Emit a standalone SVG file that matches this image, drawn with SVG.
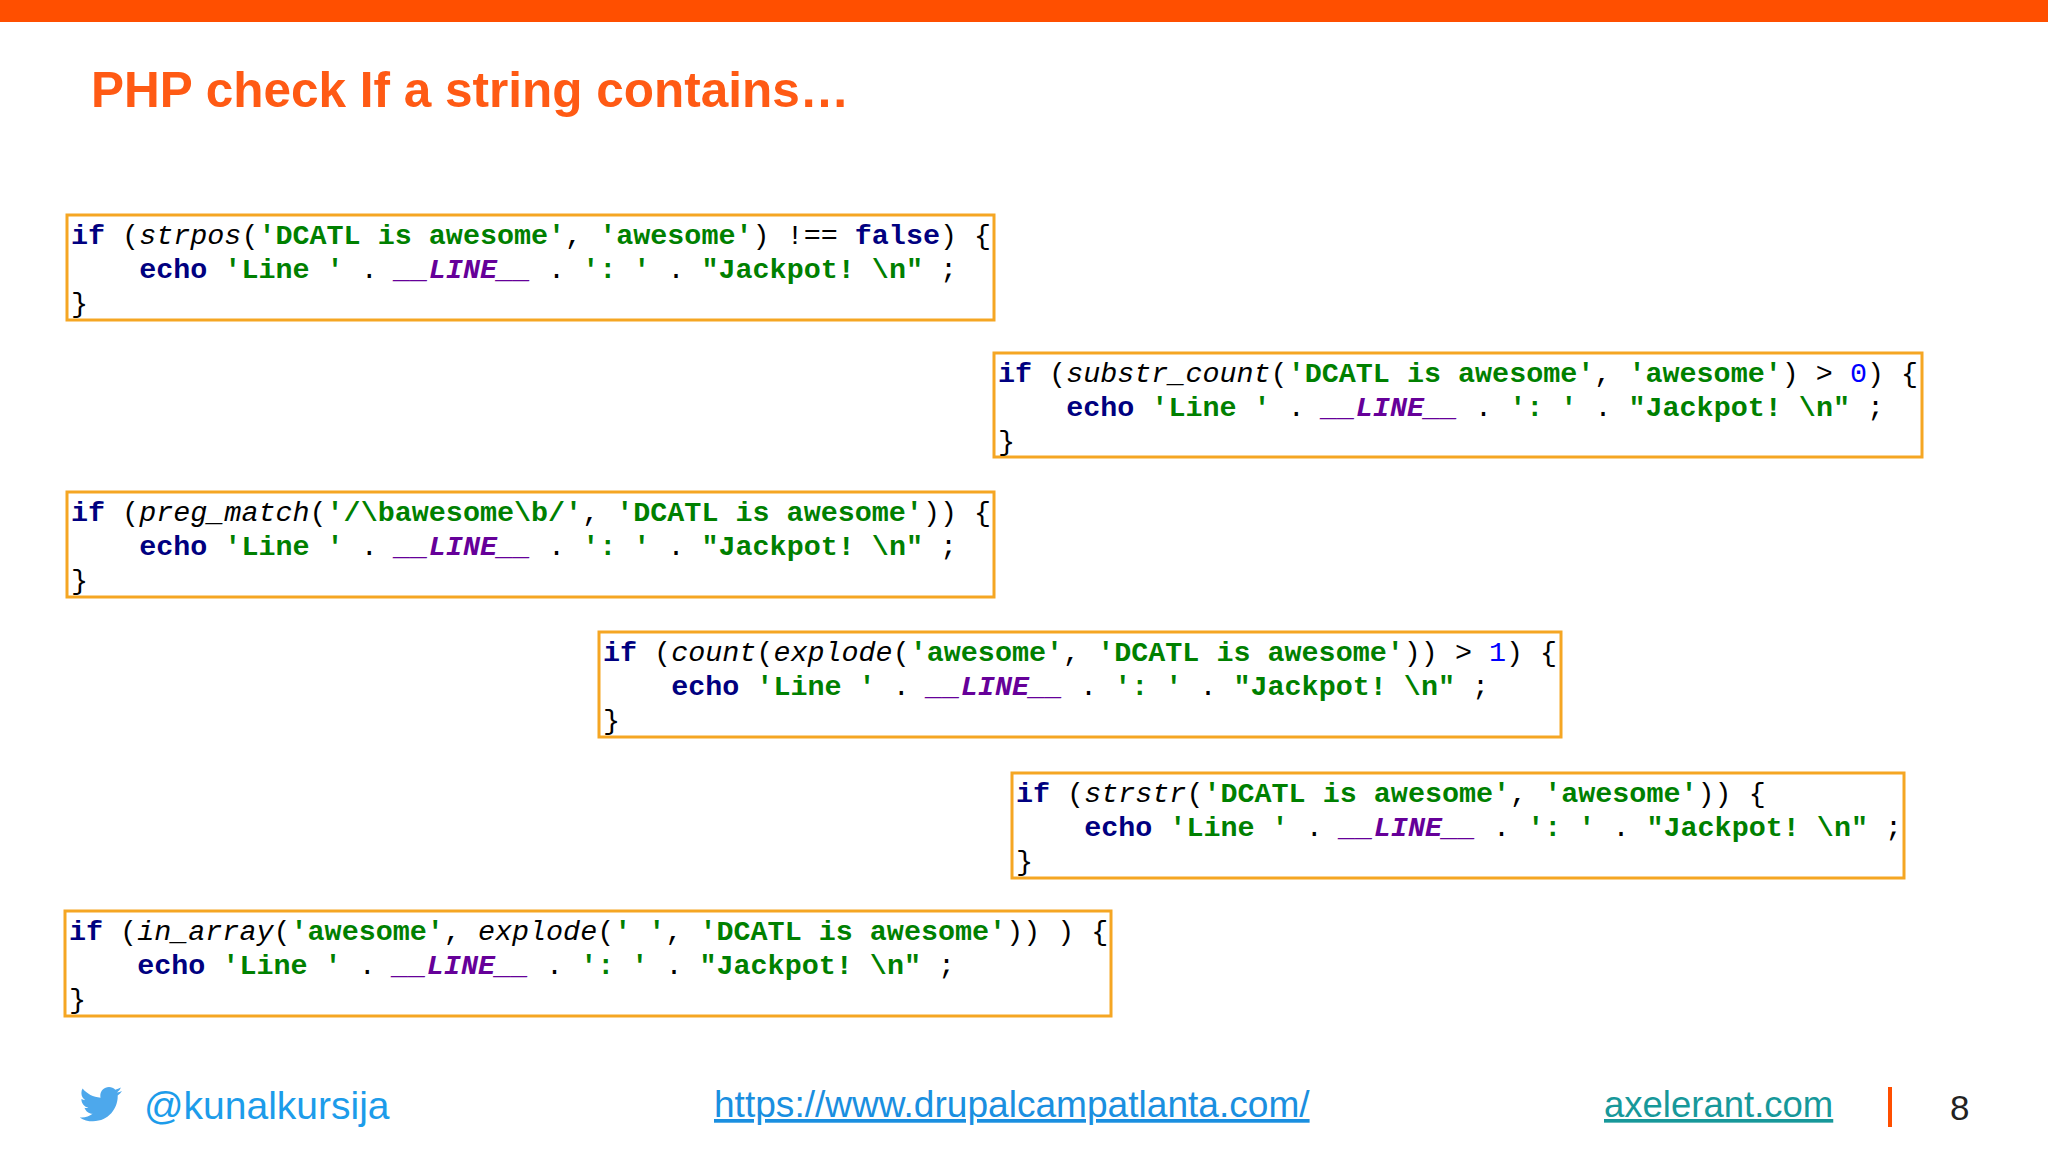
<svg xmlns="http://www.w3.org/2000/svg" width="2048" height="1152" viewBox="0 0 2048 1152">
<style>
.box{fill:#fff;stroke:#F5A623;stroke-width:3}
.code{font-family:"Liberation Mono",monospace;font-size:28.4px;fill:#000;white-space:pre}
.k{fill:#000080;font-weight:bold}
.f{font-style:italic}
.s{fill:#008000;font-weight:bold}
.c{fill:#660099;font-weight:bold;font-style:italic}
.n{fill:#0000FF}
.ft{font-family:"Liberation Sans",Arial,sans-serif}
</style>
<rect x="0" y="0" width="2048" height="22" fill="#FF4F00"/>
<text x="91" y="107" font-family="Liberation Sans,Arial,sans-serif" font-size="49.5" font-weight="bold" fill="#FF5A14">PHP check If a string contains…</text>

<g id="box1">
<rect class="box" x="67" y="215" width="927" height="105"/>
<text class="code" xml:space="preserve" x="71" y="244"><tspan class="k">if</tspan> (<tspan class="f">strpos</tspan>(<tspan class="s">'DCATL is awesome'</tspan>, <tspan class="s">'awesome'</tspan>) !== <tspan class="k">false</tspan>) {</text>
<text class="code" xml:space="preserve" x="71" y="278">    <tspan class="k">echo</tspan> <tspan class="s">'Line '</tspan> . <tspan class="c">__LINE__</tspan> . <tspan class="s">': '</tspan> . <tspan class="s">"Jackpot! \n"</tspan> ;</text>
<text class="code" x="71" y="312">}</text>
</g>
<g id="box2">
<rect class="box" x="994" y="353" width="928" height="104"/>
<text class="code" xml:space="preserve" x="998" y="382"><tspan class="k">if</tspan> (<tspan class="f">substr_count</tspan>(<tspan class="s">'DCATL is awesome'</tspan>, <tspan class="s">'awesome'</tspan>) &gt; <tspan class="n">0</tspan>) {</text>
<text class="code" xml:space="preserve" x="998" y="416">    <tspan class="k">echo</tspan> <tspan class="s">'Line '</tspan> . <tspan class="c">__LINE__</tspan> . <tspan class="s">': '</tspan> . <tspan class="s">"Jackpot! \n"</tspan> ;</text>
<text class="code" x="998" y="450">}</text>
</g>
<g id="box3">
<rect class="box" x="67" y="492" width="927" height="105"/>
<text class="code" xml:space="preserve" x="71" y="521"><tspan class="k">if</tspan> (<tspan class="f">preg_match</tspan>(<tspan class="s">'/\bawesome\b/'</tspan>, <tspan class="s">'DCATL is awesome'</tspan>)) {</text>
<text class="code" xml:space="preserve" x="71" y="555">    <tspan class="k">echo</tspan> <tspan class="s">'Line '</tspan> . <tspan class="c">__LINE__</tspan> . <tspan class="s">': '</tspan> . <tspan class="s">"Jackpot! \n"</tspan> ;</text>
<text class="code" x="71" y="589">}</text>
</g>
<g id="box4">
<rect class="box" x="599" y="632" width="962" height="105"/>
<text class="code" xml:space="preserve" x="603" y="661"><tspan class="k">if</tspan> (<tspan class="f">count</tspan>(<tspan class="f">explode</tspan>(<tspan class="s">'awesome'</tspan>, <tspan class="s">'DCATL is awesome'</tspan>)) &gt; <tspan class="n">1</tspan>) {</text>
<text class="code" xml:space="preserve" x="603" y="695">    <tspan class="k">echo</tspan> <tspan class="s">'Line '</tspan> . <tspan class="c">__LINE__</tspan> . <tspan class="s">': '</tspan> . <tspan class="s">"Jackpot! \n"</tspan> ;</text>
<text class="code" x="603" y="729">}</text>
</g>
<g id="box5">
<rect class="box" x="1012" y="773" width="892" height="105"/>
<text class="code" xml:space="preserve" x="1016" y="802"><tspan class="k">if</tspan> (<tspan class="f">strstr</tspan>(<tspan class="s">'DCATL is awesome'</tspan>, <tspan class="s">'awesome'</tspan>)) {</text>
<text class="code" xml:space="preserve" x="1016" y="836">    <tspan class="k">echo</tspan> <tspan class="s">'Line '</tspan> . <tspan class="c">__LINE__</tspan> . <tspan class="s">': '</tspan> . <tspan class="s">"Jackpot! \n"</tspan> ;</text>
<text class="code" x="1016" y="870">}</text>
</g>
<g id="box6">
<rect class="box" x="65" y="911" width="1046" height="105"/>
<text class="code" xml:space="preserve" x="69" y="940"><tspan class="k">if</tspan> (<tspan class="f">in_array</tspan>(<tspan class="s">'awesome'</tspan>, <tspan class="f">explode</tspan>(<tspan class="s">' '</tspan>, <tspan class="s">'DCATL is awesome'</tspan>)) ) {</text>
<text class="code" xml:space="preserve" x="69" y="974">    <tspan class="k">echo</tspan> <tspan class="s">'Line '</tspan> . <tspan class="c">__LINE__</tspan> . <tspan class="s">': '</tspan> . <tspan class="s">"Jackpot! \n"</tspan> ;</text>
<text class="code" x="69" y="1008">}</text>
</g>

<g id="footer">
<path fill="#4DA8EC" d="M128 1093c-1.6.7-3.3 1.2-5 1.4 1.8-1.1 3.2-2.8 3.8-4.8-1.7 1-3.6 1.7-5.5 2.1-1.6-1.7-3.9-2.7-6.3-2.7-4.8 0-8.7 3.9-8.7 8.7 0 .7.1 1.3.2 2-7.2-.4-13.6-3.8-17.9-9.1-.8 1.3-1.2 2.8-1.2 4.4 0 3 1.5 5.7 3.9 7.2-1.4 0-2.8-.4-3.9-1.1v.1c0 4.2 3 7.7 7 8.5-.7.2-1.5.3-2.3.3-.6 0-1.1-.1-1.6-.2 1.1 3.4 4.3 6 8.1 6-3 2.3-6.7 3.7-10.8 3.7-.7 0-1.4 0-2.1-.1 3.8 2.5 8.4 3.9 13.3 3.9 16 0 24.7-13.2 24.7-24.7v-1.1c1.7-1.2 3.2-2.7 4.3-4.5z" transform="translate(-6,-2)"/>
<text class="ft" x="144" y="1119" fill="#1C9CEA" font-size="39">@kunalkursija</text>
<text class="ft" x="714" y="1117" fill="#1A8FE0" text-decoration="underline" font-size="37.1">https://www.drupalcampatlanta.com/</text>
<text class="ft" x="1604" y="1117" fill="#17989A" text-decoration="underline" font-size="36.5">axelerant.com</text>
<rect x="1888" y="1087" width="4" height="40" fill="#FF4F00"/>
<text class="ft" x="1950" y="1120" fill="#222" font-size="35">8</text>
</g>
</svg>
